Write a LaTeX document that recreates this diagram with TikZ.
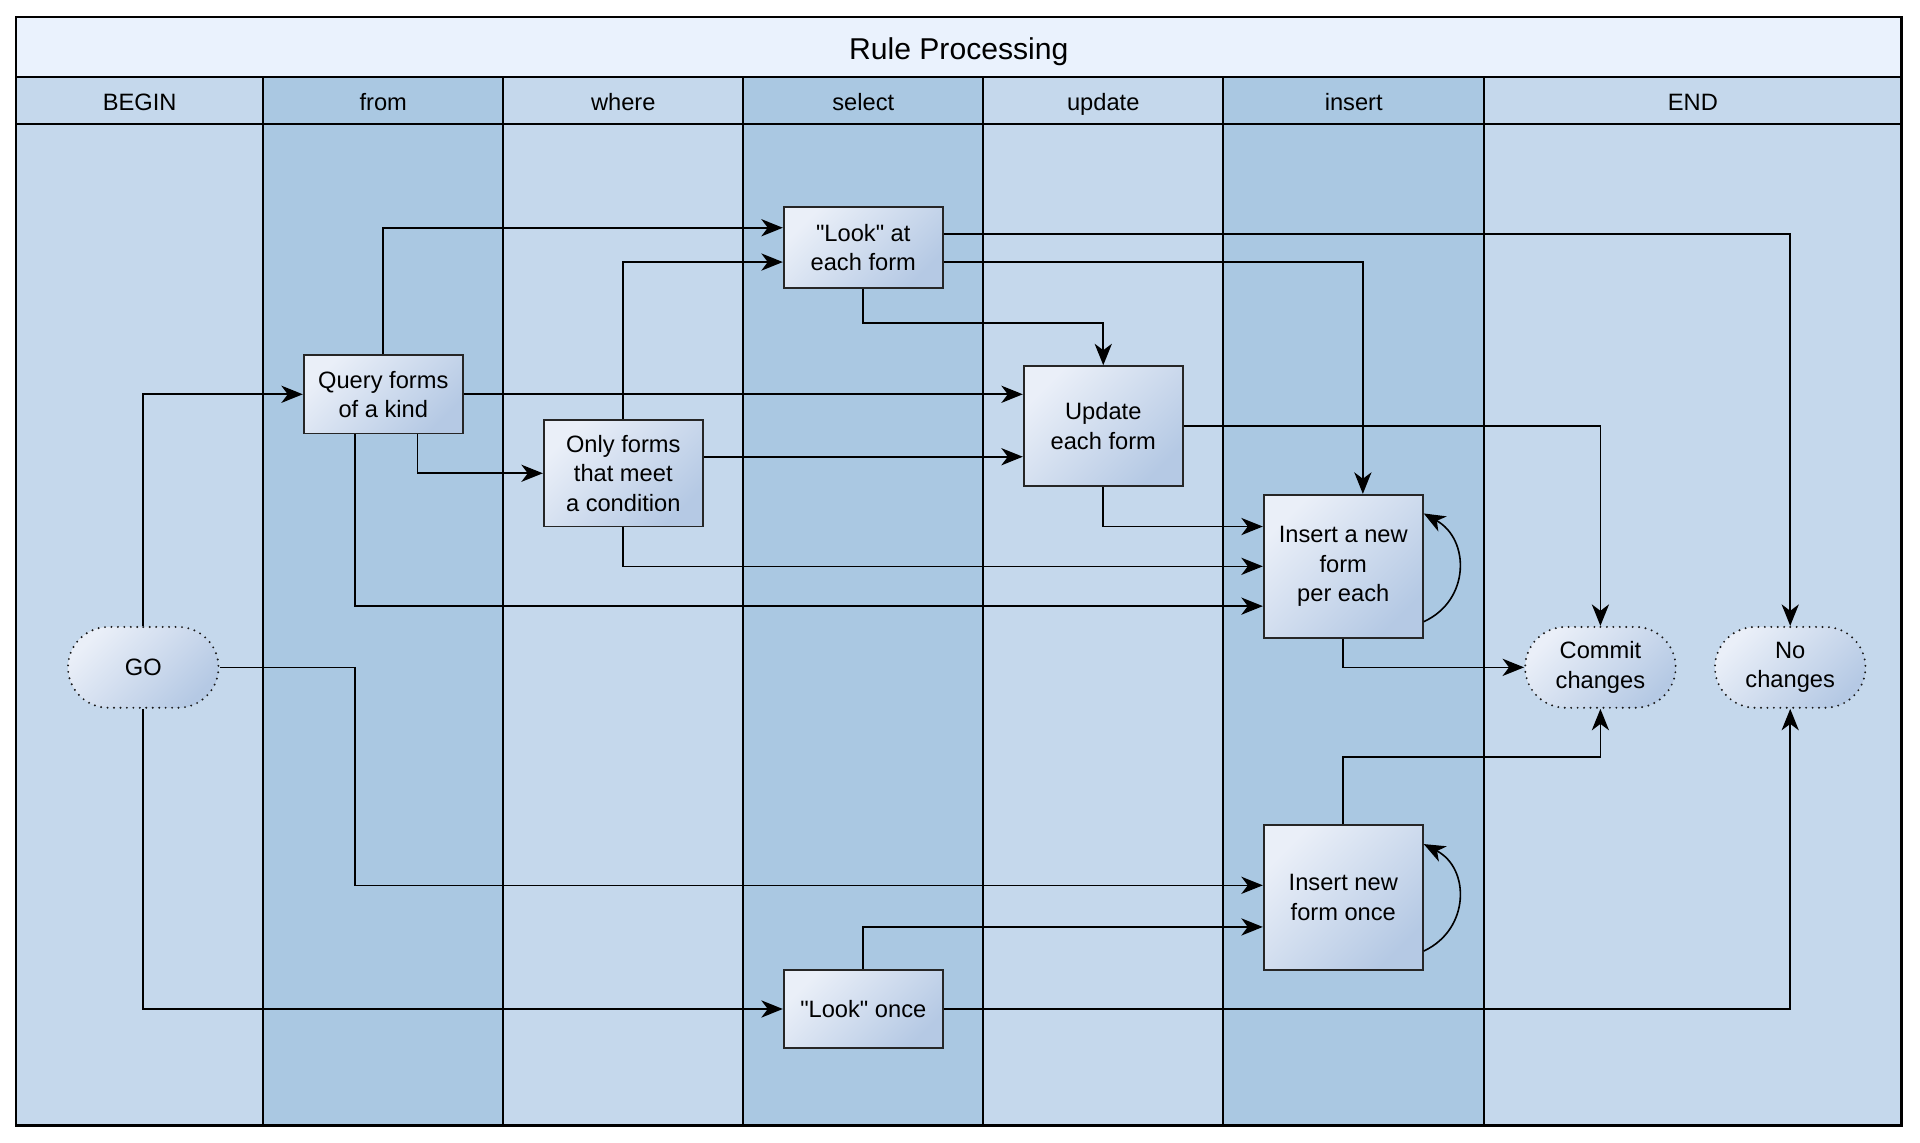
\documentclass[tikz,border=0pt]{standalone}
\usepackage{fontspec}
\setmainfont{Liberation Sans}[Ligatures=TeXOff]
\usetikzlibrary{arrows.meta,calc,shapes.misc}
\definecolor{lanelight}{HTML}{C5D8EC}
\definecolor{lanedark}{HTML}{AAC8E2}
\definecolor{titlefill}{HTML}{EAF2FD}
\definecolor{nodelight}{HTML}{EAEFF8}
\definecolor{nodedark}{HTML}{B5C9E4}
\begin{document}
\begin{tikzpicture}[x=0.02cm,y=-0.02cm,
  laneline/.style={line width=0.9pt, draw=black},
  proc/.style={rectangle, draw=black!85, line width=0.8pt, top color=nodelight, bottom color=nodedark, shading angle=45, minimum width=2.6cm, align=center, inner sep=2pt, font=\fontsize{11}{13.7}\selectfont},
  term/.style={rounded rectangle, draw=black!90, dash pattern=on 0pt off 3pt, line cap=round, line width=1pt, top color=nodelight, bottom color=nodedark, shading angle=45, minimum width=2.6cm, minimum height=1.32cm, align=center, inner sep=2pt, font=\fontsize{11}{13.7}\selectfont},
  arr/.style={-{Stealth[length=10pt,width=8pt,inset=3pt]}, line width=0.75pt, draw=black},
  lanelabel/.style={font=\fontsize{11}{13}\selectfont, inner sep=0pt, anchor=base},
  titlelabel/.style={font=\fontsize{14}{16}\selectfont, inner sep=0pt, anchor=base}
]
\useasboundingbox (0,0) rectangle (1568,933);

% lanes
\fill[titlefill] (13,14) rectangle (1553,63);
\fill[lanelight] (13,63) rectangle (215,919);
\fill[lanedark] (215,63) rectangle (411,919);
\fill[lanelight] (411,63) rectangle (607,919);
\fill[lanedark] (607,63) rectangle (803,919);
\fill[lanelight] (803,63) rectangle (999,919);
\fill[lanedark] (999,63) rectangle (1212,919);
\fill[lanelight] (1212,63) rectangle (1553,919);

\foreach \xx in {215,411,607,803,999,1212} {
  \draw[laneline] (\xx,63) -- (\xx,919);
}
\draw[laneline] (13,63) -- (1553,63);
\draw[laneline] (13,101) -- (1553,101);

\node[titlelabel] (title) at (783,49) {Rule Processing};
\node[lanelabel] (hbegin) at (114,90) {BEGIN};
\node[lanelabel] (hfrom) at (313,90) {from};
\node[lanelabel] (hwhere) at (509,90) {where};
\node[lanelabel] (hselect) at (705,90) {select};
\node[lanelabel] (hupdate) at (901,90) {update};
\node[lanelabel] (hinsert) at (1105.5,90) {insert};
\node[lanelabel] (hend) at (1382.5,90) {END};

% nodes
\node[proc, minimum height=1.28cm] (q) at (313,322) {Query forms\\of a kind};
\node[proc, minimum height=1.74cm] (of) at (509,386.5) {Only forms\\that meet\\a condition};
\node[proc, minimum height=1.32cm] (la) at (705,202) {"Look" at\\each form};
\node[proc, minimum height=1.96cm] (u) at (901,348) {Update\\each form};
\node[proc, minimum height=2.34cm] (ipe) at (1097,462.5) {Insert a new\\form\\per each};
\node[proc, minimum height=2.36cm] (io) at (1097,733) {Insert new\\form once};
\node[proc, minimum height=1.28cm] (lo) at (705,824) {"Look" once};
\node[term] (go) at (117,545) {GO};
\node[term] (cc) at (1307,545) {Commit\\changes};
\node[term] (nc) at (1462,545) {No\\changes};

% edges
\draw[arr] (go.north) |- (q.west);
\draw[arr] (go.east) -| (290,723) -- ($(io.west)+(0,-10)$);
\draw[arr] (go.south) |- (lo.west);
\draw[arr] (q.north) |- ($(la.west)+(0,-16)$);
\draw[arr] (q.east) -- (q.east -| u.west);
\draw[arr] ($(q.south)+(28,0)$) |- (of.west);
\draw[arr] ($(q.south)+(-23,0)$) |- ($(ipe.west)+(0,32.5)$);
\draw[arr] (of.north) |- ($(la.west)+(0,12)$);
\draw[arr] ($(of.east)+(0,-13.5)$) -- ($(u.west)+(0,25)$);
\draw[arr] (of.south) |- (ipe.west);
\draw[arr] ($(la.east)+(0,-11)$) -| (nc.north);
\draw[arr] ($(la.east)+(0,12)$) -| ($(ipe.north)+(16,0)$);
\draw[arr] (la.south) -- ++(0,28) -| (u.north);
\draw[arr] (u.east) -| (cc.north);
\draw[arr] (u.south) |- ($(ipe.west)+(0,-32.5)$);
\draw[arr] (ipe.south) |- (cc.west);
\draw[arr] ($(ipe.south east)+(0,-14)$) .. controls ($(ipe.east)+(38,28)$) and ($(ipe.east)+(38,-22)$) .. ($(ipe.north east)+(0,16)$);
\draw[arr] (io.north) -- ++(0,-55) -| (cc.south);
\draw[arr] ($(io.south east)+(0,-16)$) .. controls ($(io.east)+(38,26)$) and ($(io.east)+(38,-24)$) .. ($(io.north east)+(0,16)$);
\draw[arr] (lo.north) |- ($(io.west)+(0,24)$);
\draw[arr] (lo.east) -| (nc.south);

% outer border
\draw[line width=1.1pt] (13,14) rectangle (1553,919);
\end{tikzpicture}
\end{document}
